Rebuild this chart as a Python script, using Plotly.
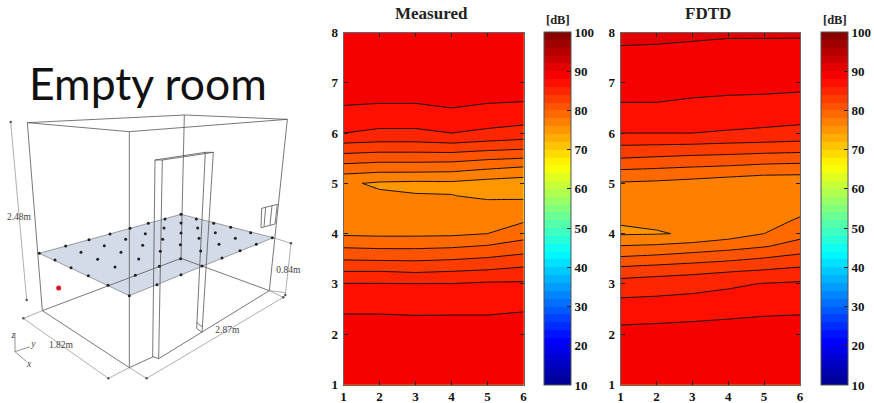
import plotly.graph_objects as go

# ---- contour data -----
x_pos = [1, 2, 3, 4, 5, 6]
y_rows = [1, 2, 2.5, 3, 3.25, 3.5, 3.75, 4, 4.25, 4.5, 4.75, 5, 5.25, 5.5, 5.75, 6, 6.5, 7, 8]

measured_x1 = [89.5,88.8,87.8,86.1,84,81.8,79.75,77.7,77,76.6,76.4,76.3,78.6,81.1,83.5,86,87.9,88.9,89.5]
measured_x2 = [89.5,88.8,87.8,86.1,84,81.7,79.6,77.6,76.9,76.5,76.3,75.72,78.3,80.8,83.3,85.6,87.8,88.9,89.5]
measured_x3 = [89.5,88.9,87.7,86.05,83.8,81.65,79.6,77.6,76.9,76.4,76.11,75.56,78.3,80.8,83.3,85.6,87.8,88.9,89.5]
measured_x4 = [89.5,88.8,87.75,86.05,84,81.85,79.75,77.65,76.9,76.4,76.05,75.63,78.2,80.75,83.5,86,88,89,89.5]
measured_x5 = [89.5,88.8,87.75,86.3,84.25,82.2,80.15,78,77.2,76.6,75.75,75.2,77.65,80.3,83.1,85.6,87.8,88.9,89.5]
measured_x6 = [89.5,88.8,87.9,86.3,84.65,82.75,80.8,79.2,77.85,76.8,75.7,75,77.1,80,82.8,85.2,87.7,88.9,89.5]

fdtd_x1 = [89.5,88.6,86.97,84.8,82.95,80.4,78.1,75.8,76.1,76.6,76.9,77.8,79.8,82,83.95,86,87.8,88.7,90.46]
fdtd_x2 = [89.5,88.7,87.05,85,83.3,80.75,78.3,75.9,76.25,76.6,76.9,77.6,79.6,81.75,83.85,86,87.8,88.7,90.4]
fdtd_x3 = [89.5,88.8,87.2,85.25,83.55,81.2,78.75,76.15,76.35,76.6,76.8,77.3,79.35,81.5,83.75,86,87.6,88.6,90.3]
fdtd_x4 = [89.5,88.9,87.4,85.65,83.9,81.6,79.25,77,76.7,76.6,76.6,76.9,79.1,81.35,83.55,85.8,87.5,88.5,90.2]
fdtd_x5 = [89.5,89,87.6,86.1,84.25,82.15,79.85,78,77.2,76.8,76.6,76.6,78.75,81.1,83.4,85.6,87.4,88.5,90.2]
fdtd_x6 = [89.5,89,87.7,86.3,84.65,82.75,80.8,79.35,78.3,77.4,76.9,76.7,78.6,80.95,83.25,85.35,87.3,88.4,90.2]

bar_ticks = [10, 20, 30, 40, 50, 60, 70, 80, 90, 100]

# ---- room schematic -----
room_edges = [
    [(82,68),(555,45),(862,58),(388,95),(82,68)],
    [(388,95),(388,803)], [(82,68),(127,632)], [(862,58),(808,572)], [(553,45),(543,478)],
    [(127,632),(388,803),(460,770)], [(476,776),(606,697),(808,572)],
    [(127,632),(543,475),(808,572)],
]
door_edges = [
    [(465,180),(616,157),(640,157),(487,180),(465,180)],
    [(465,180),(458,770),(476,776),(487,180)],
    [(640,157),(606,697),(590,685),(616,157)],
    [(590,668),(606,680)],
]
window_edges = [
    [(785,325),(832,313),(825,372),(783,383),(785,325)],
    [(797,322),(792,380)], [(816,317),(810,375)],
]
dimension_edges = [
    [(32,66),(80,600)], [(70,655),(325,835)], [(440,835),(850,592)], [(873,430),(856,585)],
    [(325,835),(388,803),(440,835)], [(70,655),(127,632)], [(850,592),(808,572)],
    [(820,413),(873,430)], [(856,578),(808,572)],
]
dimension_tips_x = [32, 80, 70, 325, 440, 850, 873, 856]
dimension_tips_y = [66, 600, 655, 835, 835, 592, 430, 585]
axis_glyph = [[(45,700),(45,755),(90,740)], [(45,755),(80,785)]]
plane_x = [118, 543, 820, 388, 118]
plane_y = [460, 343, 413, 587, 460]
mic_x = [118,165,213,265,324,388, 197,243,293,345,406,471, 267,313,363,416,478,543,
         330,377,428,481,542,606, 390,436,488,541,602,666, 445,492,543,597,657,720,
         495,543,593,646,706,769, 543,589,641,692,752,817]
mic_y = [460,480,503,527,556,587, 438,457,478,501,526,554, 419,437,457,477,499,524,
         402,418,436,454,476,498, 385,401,418,434,453,474, 370,384,399,415,433,452,
         357,369,384,398,415,433, 343,357,370,382,398,413]
source_x = [176]
source_y = [564]
room_labels = [("2.48m",57,352), ("0.84m",865,513), ("1.82m",183,738), ("2.87m",682,692)]
glyph_labels = [("z",40,706), ("y",100,735), ("x",87,795)]

W, H = 874, 403
JET = [[0,"#00008f"],[0.125,"#0000ff"],[0.375,"#00ffff"],[0.62,"#ffff00"],[0.87,"#ff0000"],[1,"#800000"]]
SERIF = "Liberation Serif"
fig = go.Figure()

def flat(groups):
    xs, ys = [], []
    for g in groups:
        for p in g:
            xs.append(p[0]); ys.append(p[1])
        xs.append(None); ys.append(None)
    return xs, ys

def transpose(cols):
    return [list(r) for r in zip(*cols)]

def add_map(cols, xa, ya, bar_x):
    z = transpose(cols)
    fig.add_trace(go.Contour(
        x=x_pos, y=y_rows, z=z, xaxis=xa, yaxis=ya, zmin=10, zmax=100, colorscale=JET,
        autocontour=False, contours=dict(start=10, end=100, size=2, coloring="fill", showlines=False),
        line=dict(width=0, smoothing=0), hoverinfo="skip",
        colorbar=dict(
            xref="container", yref="container", x=bar_x/W, xanchor="left",
            y=1-32/H, yanchor="top", lenmode="pixels", len=353, thicknessmode="pixels", thickness=27,
            xpad=0, ypad=0, outlinecolor="#555", outlinewidth=1,
            tickmode="array", tickvals=bar_ticks, ticks="inside", ticklen=4, tickcolor="#222",
            tickfont=dict(family=SERIF, size=13, color="#111", weight="bold"),
        ),
    ))
    fig.add_trace(go.Contour(
        x=x_pos, y=y_rows, z=z, xaxis=xa, yaxis=ya, showscale=False,
        autocontour=False, contours=dict(start=76, end=90, size=2, coloring="none", showlines=True),
        line=dict(color="#111", width=1, smoothing=0), hoverinfo="skip",
    ))

add_map([measured_x1,measured_x2,measured_x3,measured_x4,measured_x5,measured_x6], "x", "y", 544)
add_map([fdtd_x1,fdtd_x2,fdtd_x3,fdtd_x4,fdtd_x5,fdtd_x6], "x2", "y2", 821)

# room schematic
fig.add_trace(go.Scatter(x=plane_x, y=plane_y, xaxis="x3", yaxis="y3", mode="lines", fill="toself",
                         fillcolor="#d3dbe9", line=dict(color="#666", width=0.6), hoverinfo="skip"))
for groups, col, wd in [(room_edges,"#555",0.8),(door_edges,"#555",0.8),(window_edges,"#555",0.8),
                        (dimension_edges,"#777",0.6),(axis_glyph,"#666",0.7)]:
    xs, ys = flat(groups)
    fig.add_trace(go.Scatter(x=xs, y=ys, xaxis="x3", yaxis="y3", mode="lines",
                             line=dict(color=col, width=wd), hoverinfo="skip"))
fig.add_trace(go.Scatter(x=dimension_tips_x, y=dimension_tips_y, xaxis="x3", yaxis="y3", mode="markers",
                         marker=dict(color="#555", size=2.5), hoverinfo="skip"))
fig.add_trace(go.Scatter(x=mic_x, y=mic_y, xaxis="x3", yaxis="y3", mode="markers",
                         marker=dict(color="#222", size=3), hoverinfo="skip"))
fig.add_trace(go.Scatter(x=source_x, y=source_y, xaxis="x3", yaxis="y3", mode="markers",
                         marker=dict(color="#e8102a", size=5), hoverinfo="skip"))
fig.add_trace(go.Scatter(x=[l[1] for l in room_labels], y=[l[2] for l in room_labels], text=[l[0] for l in room_labels],
                         xaxis="x3", yaxis="y3", mode="text", textposition="middle center",
                         textfont=dict(family=SERIF, size=9.5, color="#444"), hoverinfo="skip"))
fig.add_trace(go.Scatter(x=[l[1] for l in glyph_labels], y=[l[2] for l in glyph_labels], text=[f"<i>{l[0]}</i>" for l in glyph_labels],
                         xaxis="x3", yaxis="y3", mode="text", textposition="middle center",
                         textfont=dict(family=SERIF, size=9.5, color="#444"), hoverinfo="skip"))

def ax(domain, rng, anchor, tickvals, standoff):
    return dict(domain=domain, range=rng, anchor=anchor, tickmode="array", tickvals=tickvals, ticks="inside",
                ticklen=4, tickcolor="#222", mirror="allticks", showline=True, linecolor="#666", linewidth=1,
                showgrid=False, zeroline=False, tickfont=dict(family=SERIF, size=13, color="#111", weight="bold"),
                ticklabelstandoff=standoff, automargin=False)

def note(text, px, py, family, size, color):
    return dict(text=text, x=px/W, y=1-py/H, xref="paper", yref="paper", showarrow=False,
                xanchor="center", yanchor="middle", font=dict(family=family, size=size, color=color))

ydom = [1-384.5/H, 1-32.5/H]
fig.update_layout(
    width=W, height=H, autosize=False, margin=dict(l=0, r=0, t=0, b=0, pad=0, autoexpand=False),
    paper_bgcolor="white", plot_bgcolor="white", showlegend=False,
    xaxis=ax([343.5/W, 523.5/W], [1,6], "y", x_pos, 0),
    yaxis=ax(ydom, [1,8], "x", list(range(1,9)), 2),
    xaxis2=ax([620.5/W, 800/W], [1,6], "y2", x_pos, 0),
    yaxis2=ax(ydom, [1,8], "x2", list(range(1,9)), 2),
    xaxis3=dict(domain=[0,320/W], range=[0,960], anchor="y3", visible=False),
    yaxis3=dict(domain=[0,303/H], range=[909,0], anchor="x3", visible=False),
    annotations=[
        note("Empty room", 148, 82, "Lato", 44.5, "#111"),
        note("<b>Measured</b>", 431, 14, SERIF, 17, "#222"),
        note("<b>FDTD</b>", 708, 14, SERIF, 17, "#222"),
        note("<b>[dB]</b>", 558, 20, SERIF, 12.5, "#222"),
        note("<b>[dB]</b>", 835, 20, SERIF, 12.5, "#222"),
    ],
)
fig.write_html("out.html", config={"displayModeBar": False}, post_script="document.body.style.margin='0';")
